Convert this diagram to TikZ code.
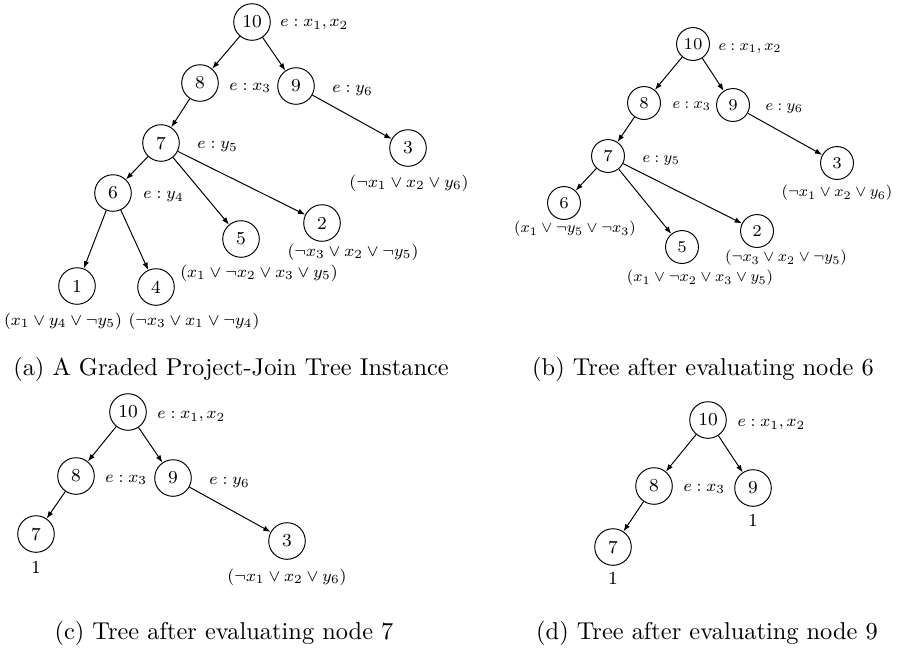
\documentclass[tikz,border=0pt]{standalone}
\usepackage{amsmath, amssymb}
\usepackage{graphicx}
\usepackage{tikz}
\usetikzlibrary{arrows.meta}

% math label, shrunk to the size of the tree pictures
\newcommand{\lab}[2][0.85]{\scalebox{#1}{$#2$}}

\tikzset{
    vert/.style={draw, circle, thin, minimum size=15pt, inner sep=0pt, font=\fontsize{7.5}{8}\selectfont},
    smallvert/.style={vert, minimum size=13.5pt, font=\fontsize{6.8}{8}\selectfont},
    arr/.style={thin, -{Latex[length=3pt, width=2.2pt]}},
    elab/.style={anchor=west, inner sep=0pt, font=\footnotesize},
    clause/.style={inner sep=0pt, font=\footnotesize},
    caption/.style={inner sep=0pt}
}

\begin{document}
\begin{tikzpicture}[x=0.41pt, y=-0.41pt]
    \useasboundingbox (0,0) rectangle (901,650);

    % (a) graded project-join tree
    \node[vert] (a10) at (252,22) {10};
    \node[vert] (a8) at (200,83) {8};
    \node[vert] (a9) at (296,86) {9};
    \node[vert] (a7) at (161,143) {7};
    \node[vert] (a3) at (408,148) {3};
    \node[vert] (a6) at (113,193) {6};
    \node[vert] (a5) at (241,239) {5};
    \node[vert] (a2) at (322,223) {2};
    \node[vert] (a1) at (77,286) {1};
    \node[vert] (a4) at (156,287) {4};
    \node[elab] (ae10) at (280,25) {\lab{e: x_1, x_2}};
    \node[elab] (ae8) at (229,88) {\lab{e: x_3}};
    \node[elab] (ae9) at (332,91) {\lab{e: y_6}};
    \node[elab] (ae7) at (197,147) {\lab{e: y_5}};
    \node[elab] (ae6) at (143,197) {\lab{e: y_4}};
    \node[clause] (ac3) at (409,183) {\lab{(\neg x_1 \vee x_2 \vee y_6)}};
    \node[clause] (ac2) at (353,252) {\lab{(\neg x_3 \vee x_2 \vee \neg y_5)}};
    \node[clause] (ac5) at (259,273) {\lab{(x_1 \vee \neg x_2 \vee x_3 \vee y_5)}};
    \node[clause] (ac1) at (63,321) {\lab{(x_1 \vee y_4 \vee \neg y_5)}};
    \node[clause] (ac4) at (194,321) {\lab{(\neg x_3 \vee x_1 \vee \neg y_4)}};
    \draw[arr] (a10) -- (a8);
    \draw[arr] (a10) -- (a9);
    \draw[arr] (a8) -- (a7);
    \draw[arr] (a9) -- (a3);
    \draw[arr] (a7) -- (a6);
    \draw[arr] (a7) -- (a5);
    \draw[arr] (a7) -- (a2);
    \draw[arr] (a6) -- (a1);
    \draw[arr] (a6) -- (a4);

    % (b) after node 6
    \node[smallvert] (b10) at (693,44) {10};
    \node[smallvert] (b8) at (644,103) {8};
    \node[smallvert] (b9) at (733,105) {9};
    \node[smallvert] (b7) at (608,156) {7};
    \node[smallvert] (b3) at (837,163) {3};
    \node[smallvert] (b6) at (564,203) {6};
    \node[smallvert] (b5) at (682,247) {5};
    \node[smallvert] (b2) at (757,231) {2};
    \node[elab] (be10) at (718,49) {\lab[0.79]{e: x_1, x_2}};
    \node[elab] (be8) at (672,106) {\lab[0.79]{e: x_3}};
    \node[elab] (be9) at (765,109) {\lab[0.79]{e: y_6}};
    \node[elab] (be7) at (642,161) {\lab[0.79]{e: y_5}};
    \node[clause] (bc3) at (837,193) {\lab[0.79]{(\neg x_1 \vee x_2 \vee y_6)}};
    \node[clause] (bc6) at (575,229) {\lab[0.79]{(x_1 \vee \neg y_5 \vee \neg x_3)}};
    \node[clause] (bc5) at (700,278) {\lab[0.79]{(x_1 \vee \neg x_2 \vee x_3 \vee y_5)}};
    \node[clause] (bc2) at (786,258) {\lab[0.79]{(\neg x_3 \vee x_2 \vee \neg y_5)}};
    \draw[arr] (b10) -- (b8);
    \draw[arr] (b10) -- (b9);
    \draw[arr] (b8) -- (b7);
    \draw[arr] (b9) -- (b3);
    \draw[arr] (b7) -- (b6);
    \draw[arr] (b7) -- (b5);
    \draw[arr] (b7) -- (b2);

    % (c) after node 7
    \node[vert] (c10) at (128,412) {10};
    \node[vert] (c8) at (76,476) {8};
    \node[vert] (c9) at (173,478) {9};
    \node[vert] (c7) at (36,534) {7};
    \node[vert] (c3) at (287,541) {3};
    \node[elab] (ce10) at (157,417) {\lab{e: x_1, x_2}};
    \node[elab] (ce8) at (105,480) {\lab{e: x_3}};
    \node[elab] (ce9) at (209,483) {\lab{e: y_6}};
    \node[clause, font=\fontsize{7.5}{8}\selectfont] (cc7) at (36,567) {1};
    \node[clause] (cc3) at (287,577) {\lab{(\neg x_1 \vee x_2 \vee y_6)}};
    \draw[arr] (c10) -- (c8);
    \draw[arr] (c10) -- (c9);
    \draw[arr] (c8) -- (c7);
    \draw[arr] (c9) -- (c3);

    % (d) after node 9
    \node[vert] (d10) at (708,420) {10};
    \node[vert] (d8) at (654,486) {8};
    \node[vert] (d9) at (753,488) {9};
    \node[vert] (d7) at (613,547) {7};
    \node[elab] (de10) at (737,425) {\lab{e: x_1, x_2}};
    \node[elab] (de8) at (683,489) {\lab{e: x_3}};
    \node[clause, font=\fontsize{7.5}{8}\selectfont] (dc9) at (753,520) {1};
    \node[clause, font=\fontsize{7.5}{8}\selectfont] (dc7) at (613,578) {1};
    \draw[arr] (d10) -- (d8);
    \draw[arr] (d10) -- (d9);
    \draw[arr] (d8) -- (d7);

    % captions
    \node[caption] (capa) at (231,369) {(a) A Graded Project-Join Tree Instance};
    \node[caption] (capb) at (703,369) {(b) Tree after evaluating node 6};
    \node[caption] (capc) at (224,633) {(c) Tree after evaluating node 7};
    \node[caption] (capd) at (707,633) {(d) Tree after evaluating node 9};
\end{tikzpicture}
\end{document}
